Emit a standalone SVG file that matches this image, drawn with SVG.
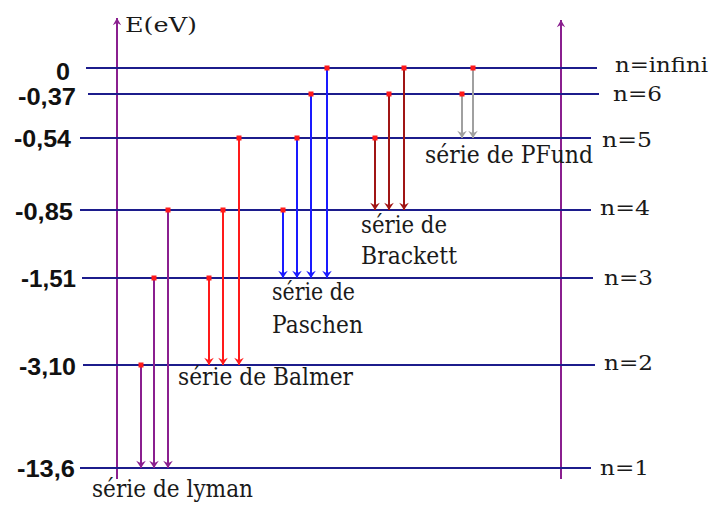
<svg xmlns="http://www.w3.org/2000/svg" width="710" height="505" viewBox="0 0 710 505">
<style>
.lvl{stroke:#1c1c8c;stroke-width:2;fill:none}
.axis{stroke:#8a1f8f;stroke-width:2;fill:none}
.val{font-family:"Liberation Sans",Arial,sans-serif;font-weight:bold;font-size:23px;fill:#111}
.ser{font-family:"DejaVu Serif","Liberation Serif",serif;font-size:24px;fill:#1a1a1a}
.nl{font-family:"DejaVu Serif","Liberation Serif",serif;font-size:21px;fill:#1a1a1a}
.tr{stroke-width:2;fill:none}
.ly{stroke:#8a1f8f}
.ba{stroke:#ff1a1a}
.pa{stroke:#1a1aff}
.br{stroke:#a01515}
.pf{stroke:#a0a0a0}
.dot{fill:#ff1a1a}
</style>
<defs>
<marker id="aLy" markerUnits="userSpaceOnUse" markerWidth="12" markerHeight="12" refX="0" refY="0" viewBox="-7 -5 8 10" orient="auto"><path d="M0,0 L-6,-4 L-4,0 L-6,4 Z" fill="#8a1f8f"/></marker>
<marker id="aBa" markerUnits="userSpaceOnUse" markerWidth="12" markerHeight="12" refX="0" refY="0" viewBox="-7 -5 8 10" orient="auto"><path d="M0,0 L-6,-4 L-4,0 L-6,4 Z" fill="#ff1a1a"/></marker>
<marker id="aPa" markerUnits="userSpaceOnUse" markerWidth="12" markerHeight="12" refX="0" refY="0" viewBox="-7 -5 8 10" orient="auto"><path d="M0,0 L-6,-4 L-4,0 L-6,4 Z" fill="#1a1aff"/></marker>
<marker id="aBr" markerUnits="userSpaceOnUse" markerWidth="12" markerHeight="12" refX="0" refY="0" viewBox="-7 -5 8 10" orient="auto"><path d="M0,0 L-6,-4 L-4,0 L-6,4 Z" fill="#a01515"/></marker>
<marker id="aPf" markerUnits="userSpaceOnUse" markerWidth="12" markerHeight="12" refX="0" refY="0" viewBox="-7 -5 8 10" orient="auto"><path d="M0,0 L-6,-4 L-4,0 L-6,4 Z" fill="#a0a0a0"/></marker>
<marker id="aAx" markerUnits="userSpaceOnUse" markerWidth="12" markerHeight="12" refX="0" refY="0" viewBox="-7 -5 8 10" orient="auto"><path d="M0,0 L-6,-3.5 L-4,0 L-6,3.5 Z" fill="#8a1f8f"/></marker>
</defs>

<g id="axes">
<line class="axis" x1="117" y1="479" x2="117" y2="18" marker-end="url(#aAx)"/>
<line class="axis" x1="561" y1="479" x2="561" y2="20" marker-end="url(#aAx)"/>
<text x="125" y="32" font-family="DejaVu Serif, Liberation Serif, serif" font-size="20" fill="#1a1a1a" textLength="72" lengthAdjust="spacingAndGlyphs">E(eV)</text>
</g>

<g id="level-inf">
<line class="lvl" x1="86" y1="68" x2="597" y2="68"/>
<text class="val" x="56" y="80" textLength="14" lengthAdjust="spacingAndGlyphs">0</text>
<text class="nl" x="615" y="72" textLength="93" lengthAdjust="spacingAndGlyphs">n=infini</text>
</g>
<g id="level-6">
<line class="lvl" x1="88" y1="94" x2="599" y2="94"/>
<text class="val" x="18" y="105" textLength="58" lengthAdjust="spacingAndGlyphs">-0,37</text>
<text class="nl" x="613" y="101" textLength="49" lengthAdjust="spacingAndGlyphs">n=6</text>
</g>
<g id="level-5">
<line class="lvl" x1="80" y1="138" x2="591" y2="138"/>
<text class="val" x="14" y="147" textLength="57" lengthAdjust="spacingAndGlyphs">-0,54</text>
<text class="nl" x="602" y="147" textLength="50" lengthAdjust="spacingAndGlyphs">n=5</text>
</g>
<g id="level-4">
<line class="lvl" x1="80" y1="210" x2="591" y2="210"/>
<text class="val" x="15" y="220" textLength="58" lengthAdjust="spacingAndGlyphs">-0,85</text>
<text class="nl" x="600" y="215" textLength="50" lengthAdjust="spacingAndGlyphs">n=4</text>
</g>
<g id="level-3">
<line class="lvl" x1="82" y1="278" x2="593" y2="278"/>
<text class="val" x="21" y="287" textLength="55" lengthAdjust="spacingAndGlyphs">-1,51</text>
<text class="nl" x="604" y="285" textLength="49" lengthAdjust="spacingAndGlyphs">n=3</text>
</g>
<g id="level-2">
<line class="lvl" x1="83" y1="365" x2="595" y2="365"/>
<text class="val" x="19" y="375" textLength="57" lengthAdjust="spacingAndGlyphs">-3,10</text>
<text class="nl" x="604" y="370" textLength="49" lengthAdjust="spacingAndGlyphs">n=2</text>
</g>
<g id="level-1">
<line class="lvl" x1="80" y1="468" x2="591" y2="468"/>
<text class="val" x="17" y="477" textLength="58" lengthAdjust="spacingAndGlyphs">-13,6</text>
<text class="nl" x="600" y="475" textLength="49" lengthAdjust="spacingAndGlyphs">n=1</text>
</g>

<g id="connectors">
<line class="tr ly" x1="141" y1="365" x2="141" y2="468" marker-end="url(#aLy)"/>
<line class="tr ly" x1="154" y1="278" x2="154" y2="468" marker-end="url(#aLy)"/>
<line class="tr ly" x1="168" y1="210" x2="168" y2="468" marker-end="url(#aLy)"/>
<line class="tr ba" x1="209" y1="278" x2="209" y2="365" marker-end="url(#aBa)"/>
<line class="tr ba" x1="223" y1="210" x2="223" y2="365" marker-end="url(#aBa)"/>
<line class="tr ba" x1="239" y1="138" x2="239" y2="365" marker-end="url(#aBa)"/>
<line class="tr pa" x1="283" y1="210" x2="283" y2="278" marker-end="url(#aPa)"/>
<line class="tr pa" x1="297" y1="138" x2="297" y2="278" marker-end="url(#aPa)"/>
<line class="tr pa" x1="311" y1="94" x2="311" y2="278" marker-end="url(#aPa)"/>
<line class="tr pa" x1="327" y1="68" x2="327" y2="278" marker-end="url(#aPa)"/>
<line class="tr br" x1="375" y1="138" x2="375" y2="210" marker-end="url(#aBr)"/>
<line class="tr br" x1="389" y1="94" x2="389" y2="210" marker-end="url(#aBr)"/>
<line class="tr br" x1="404" y1="68" x2="404" y2="210" marker-end="url(#aBr)"/>
<line class="tr pf" x1="462" y1="94" x2="462" y2="138" marker-end="url(#aPf)"/>
<line class="tr pf" x1="473" y1="68" x2="473" y2="138" marker-end="url(#aPf)"/>
<rect class="dot" x="138.5" y="362.5" width="5" height="5"/>
<rect class="dot" x="151.5" y="275.5" width="5" height="5"/>
<rect class="dot" x="165.5" y="207.5" width="5" height="5"/>
<rect class="dot" x="206.5" y="275.5" width="5" height="5"/>
<rect class="dot" x="220.5" y="207.5" width="5" height="5"/>
<rect class="dot" x="236.5" y="135.5" width="5" height="5"/>
<rect class="dot" x="280.5" y="207.5" width="5" height="5"/>
<rect class="dot" x="294.5" y="135.5" width="5" height="5"/>
<rect class="dot" x="308.5" y="91.5" width="5" height="5"/>
<rect class="dot" x="324.5" y="65.5" width="5" height="5"/>
<rect class="dot" x="372.5" y="135.5" width="5" height="5"/>
<rect class="dot" x="386.5" y="91.5" width="5" height="5"/>
<rect class="dot" x="401.5" y="65.5" width="5" height="5"/>
<rect class="dot" x="459.5" y="91.5" width="5" height="5"/>
<rect class="dot" x="470.5" y="65.5" width="5" height="5"/>
</g>

<g id="labels">
<text class="ser" x="425" y="163" textLength="168" lengthAdjust="spacingAndGlyphs">série de PFund</text>
<text class="ser" x="361" y="233" textLength="86" lengthAdjust="spacingAndGlyphs">série de</text>
<text class="ser" x="361" y="264" textLength="96" lengthAdjust="spacingAndGlyphs">Brackett</text>
<text class="ser" x="272" y="300" textLength="83" lengthAdjust="spacingAndGlyphs">série de</text>
<text class="ser" x="272" y="333" textLength="91" lengthAdjust="spacingAndGlyphs">Paschen</text>
<text class="ser" x="178" y="385" textLength="175" lengthAdjust="spacingAndGlyphs">série de Balmer</text>
<text class="ser" x="92" y="497" textLength="161" lengthAdjust="spacingAndGlyphs">série de lyman</text>
</g>
</svg>
